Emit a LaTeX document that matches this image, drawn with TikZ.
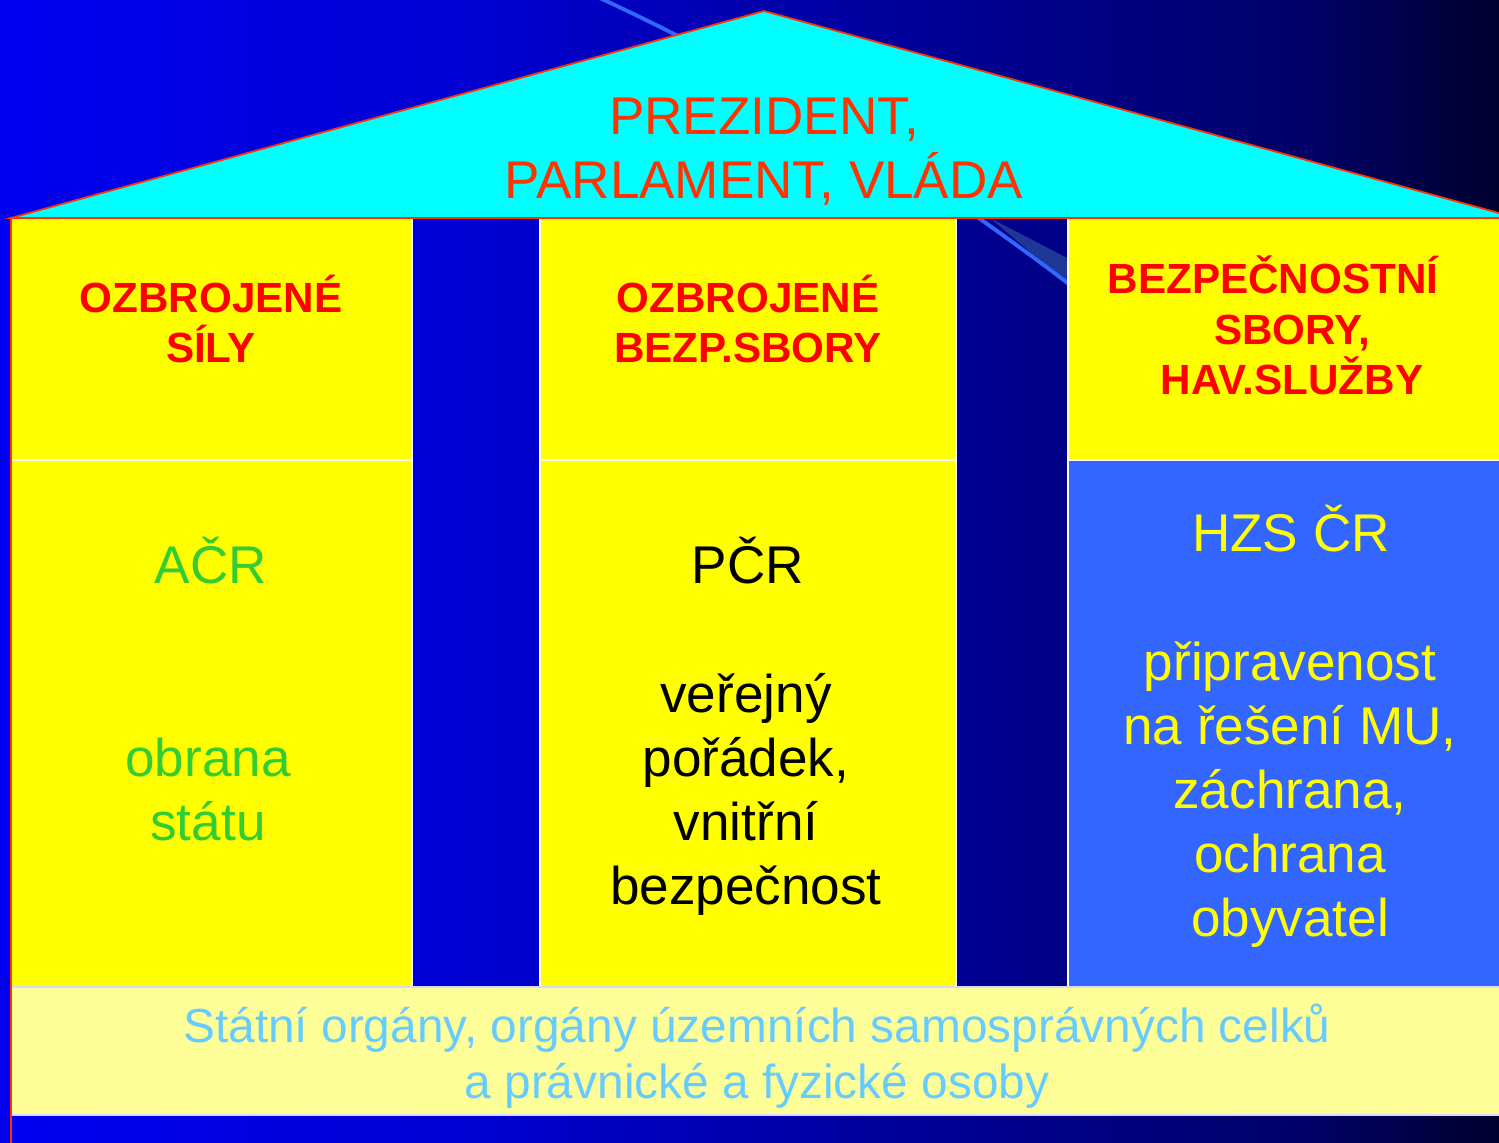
\documentclass[tikz,border=0pt]{standalone}
\usepackage{fontspec}
\setmainfont{Liberation Sans}
\definecolor{roofcyan}{RGB}{0,255,255}
\definecolor{rooftext}{RGB}{255,51,0}
\definecolor{pillar}{RGB}{255,255,0}
\definecolor{hzsblue}{RGB}{51,102,255}
\definecolor{basefill}{RGB}{255,255,153}
\definecolor{basetext}{RGB}{102,204,255}
\definecolor{acrgreen}{RGB}{51,204,51}
\definecolor{swoosh}{RGB}{51,102,255}
\definecolor{swooshband}{RGB}{30,55,150}
\pgfdeclarehorizontalshading{skyshade}{100bp}{rgb(0bp)=(0,0,0.94); rgb(25bp)=(0,0,0.94); rgb(40.85bp)=(0,0,0.82); rgb(58.7bp)=(0,0,0.55); rgb(68.35bp)=(0,0,0.41); rgb(75bp)=(0,0,0.18); rgb(100bp)=(0,0,0.18)}

\begin{document}
\begin{tikzpicture}[x=0.01cm, y=-0.01cm,
  headtext/.style={font=\fontsize{12}{14.5}\selectfont\bfseries, text=red, align=center, anchor=base},
  bodytext/.style={font=\fontsize{15.1}{18.2}\selectfont, align=center, anchor=base},
  cell/.style={draw=white, line width=0.6pt}]
		%%%%% START %%%%%
		
		\useasboundingbox (0, 0) rectangle (1499, 1143);
		\clip (0, 0) rectangle (1499, 1143);
		\shade[shading=skyshade] (0, 0) rectangle (1499, 1143);
		
		\fill[swooshband] (990, 218) -- (1075, 262) -- (1075, 290) -- cycle;
		\draw[swoosh, line width=1.1pt] (580, -11) .. controls (780, 79) and (950, 191) .. (1100, 308);
		
		\filldraw[fill=pillar, cell] (11, 218) rectangle (412, 460);
		\filldraw[fill=pillar, cell] (11, 460) rectangle (412, 987);
		\filldraw[fill=pillar, cell] (540, 218) rectangle (956, 460);
		\filldraw[fill=pillar, cell] (540, 460) rectangle (956, 987);
		\filldraw[fill=pillar, cell] (1068, 218) rectangle (1510, 460);
		\filldraw[fill=hzsblue, cell] (1068, 460) rectangle (1510, 987);
		
		\filldraw[fill=basefill, draw=white!85!blue, line width=0.6pt] (11, 987) rectangle (1510, 1115);
		
		\filldraw[fill=roofcyan, draw=rooftext, line width=0.5pt] (11, 218) -- (764, 11) -- (1517, 218) -- cycle;
		\draw[rooftext, line width=0.5pt] (11, 218) -- (11, 1150);
		
		\node[bodytext, text=rooftext] (roof) at (764, 199) {PREZIDENT,\\PARLAMENT, VLÁDA};
		
		\node[headtext] (silyhead) at (211, 363) {OZBROJENÉ\\SÍLY};
		\node[headtext] (sborhead) at (748, 363) {OZBROJENÉ\\BEZP.SBORY};
		\node[headtext] (bezphead) at (1273, 395) {BEZPEČNOSTNÍ\\\hspace*{0.38cm}SBORY,\\\hspace*{0.38cm}HAV.SLUŽBY};
		
		\node[bodytext, text=acrgreen] (acr) at (211, 584) {AČR};
		\node[bodytext, text=acrgreen] (obrana) at (208, 841) {obrana\\státu};
		
		\node[bodytext, text=black] (pcr) at (748, 584) {PČR};
		\node[bodytext, text=black] (poradek) at (746, 905) {veřejný\\pořádek,\\vnitřní\\bezpečnost};
		
		\node[bodytext, text=pillar] (hzs) at (1291, 552) {HZS ČR};
		\node[bodytext, text=pillar] (zachrana) at (1290, 937) {připravenost\\na řešení MU,\\záchrana,\\ochrana\\obyvatel};
		
		\node[bodytext, font=\fontsize{13.6}{15.9}\selectfont, text=basetext] (organy) at (757, 1098) {Státní orgány, orgány územních samosprávných celků\\a právnické a fyzické osoby};
		
		%%%%% END %%%%%
	\end{tikzpicture}
\end{document}
